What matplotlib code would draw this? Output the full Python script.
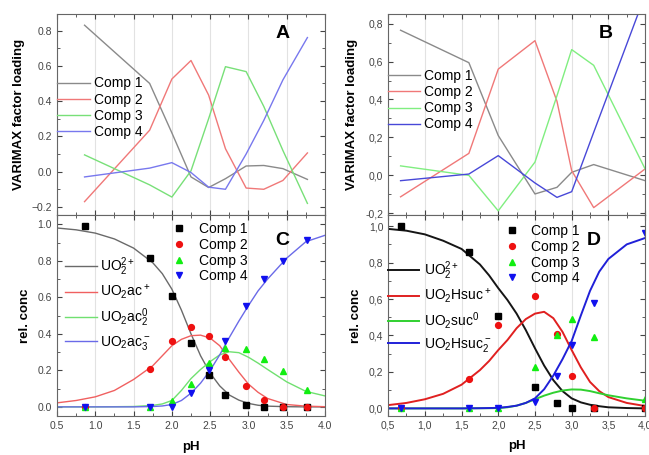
import numpy as np
import matplotlib
matplotlib.use('Agg')
from matplotlib import pyplot as plt
from matplotlib.ticker import MultipleLocator, FuncFormatter

plt.rcParams['font.family'] = ['Liberation Sans', 'DejaVu Sans']
plt.rcParams['mathtext.fontset'] = 'custom'
plt.rcParams['mathtext.rm'] = 'Liberation Sans'
plt.rcParams['mathtext.it'] = 'Liberation Sans:italic'
plt.rcParams['mathtext.default'] = 'regular'

comp_labels = ['Comp 1', 'Comp 2', 'Comp 3', 'Comp 4']

# panel A / C : acetate
ph_ac = [0.86, 1.71, 2.0, 2.25, 2.48, 2.7, 2.97, 3.2, 3.45, 3.77]
load_ac = [
    [0.83, 0.50, 0.22, -0.03, -0.09, -0.04, 0.032, 0.035, 0.017, -0.044],
    [-0.17, 0.235, 0.525, 0.63, 0.434, 0.13, -0.093, -0.10, -0.05, 0.106],
    [0.095, -0.075, -0.144, 0.005, 0.30, 0.595, 0.567, 0.37, 0.12, -0.18],
    [-0.03, 0.02, 0.051, -0.005, -0.088, -0.10, 0.10, 0.29, 0.52, 0.76],
]
conc_ac = [
    [0.99, 0.815, 0.605, 0.35, 0.175, 0.065, 0.01, 0.0, 0.0, 0.0],
    [0.0, 0.21, 0.36, 0.44, 0.39, 0.275, 0.115, 0.04, 0.0, 0.0],
    [0.0, 0.0, 0.03, 0.125, 0.24, 0.32, 0.315, 0.265, 0.195, 0.095],
    [0.0, 0.0, 0.0, 0.075, 0.20, 0.36, 0.55, 0.70, 0.80, 0.915],
]
species_ac = ['UO$_2^{2+}$', 'UO$_2$ac$^+$', 'UO$_2$ac$_2^0$', 'UO$_2$ac$_3^-$']
ph_fit_ac = [0.5, 0.75, 1.0, 1.25, 1.5, 1.75, 1.875, 2.0, 2.125, 2.25, 2.375, 2.5,
             2.625, 2.75, 2.875, 3.0, 3.125, 3.25, 3.5, 3.75, 4.0]
fit_ac = [
    [0.98, 0.97, 0.952, 0.92, 0.87, 0.79, 0.73, 0.645, 0.53, 0.40, 0.28, 0.185,
     0.115, 0.065, 0.037, 0.019, 0.009, 0.004, 0.001, 0.0, 0.0],
    [0.022, 0.035, 0.055, 0.09, 0.15, 0.225, 0.28, 0.335, 0.37, 0.39, 0.393, 0.377,
     0.335, 0.26, 0.19, 0.125, 0.08, 0.046, 0.013, 0.004, 0.001],
    [0.0, 0.0, 0.0, 0.001, 0.002, 0.008, 0.016, 0.035, 0.09, 0.155, 0.205, 0.248,
     0.285, 0.302, 0.297, 0.272, 0.24, 0.205, 0.137, 0.085, 0.06],
    [0.0, 0.0, 0.0, 0.0, 0.0, 0.002, 0.005, 0.013, 0.035, 0.075, 0.13, 0.20,
     0.285, 0.38, 0.47, 0.555, 0.635, 0.70, 0.815, 0.905, 0.94],
]

# panel B / D : succinate
ph_suc = [0.67, 1.6, 2.0, 2.5, 2.8, 3.0, 3.3, 4.0]
load_suc = [
    [0.765, 0.594, 0.21, -0.098, -0.063, 0.016, 0.057, -0.028],
    [-0.113, 0.116, 0.56, 0.71, 0.39, 0.025, -0.17, 0.034],
    [0.05, 0.0, -0.187, 0.07, 0.42, 0.663, 0.58, 0.034],
    [-0.028, 0.007, 0.104, -0.04, -0.116, -0.086, 0.227, 0.95],
]
conc_suc = [
    [1.0, 0.858, 0.508, 0.119, 0.027, 0.0, 0.0, 0.0],
    [0.0, 0.16, 0.46, 0.617, 0.41, 0.18, 0.0, 0.0],
    [0.0, 0.0, 0.0, 0.225, 0.40, 0.488, 0.39, 0.05],
    [0.0, 0.0, 0.0, 0.037, 0.177, 0.35, 0.58, 0.965],
]
species_suc = ['UO$_2^{2+}$', 'UO$_2$Hsuc$^+$', 'UO$_2$suc$^0$', 'UO$_2$Hsuc$_2^-$']
ph_fit_suc = [0.5, 0.75, 1.0, 1.25, 1.5, 1.75, 1.875, 2.0, 2.125, 2.25, 2.375, 2.5,
              2.625, 2.75, 2.875, 3.0, 3.125, 3.25, 3.375, 3.5, 3.75, 4.0]
fit_suc = [
    [0.985, 0.975, 0.955, 0.92, 0.875, 0.79, 0.73, 0.66, 0.595, 0.52, 0.43, 0.33,
     0.235, 0.155, 0.095, 0.055, 0.033, 0.02, 0.012, 0.006, 0.002, 0.0],
    [0.018, 0.03, 0.05, 0.08, 0.13, 0.21, 0.26, 0.32, 0.375, 0.44, 0.49, 0.52,
     0.53, 0.495, 0.42, 0.32, 0.225, 0.145, 0.095, 0.062, 0.03, 0.013],
    [0.0, 0.0, 0.0, 0.0, 0.0, 0.001, 0.001, 0.002, 0.006, 0.015, 0.03, 0.05,
     0.07, 0.086, 0.098, 0.104, 0.103, 0.095, 0.083, 0.072, 0.055, 0.042],
    [0.0, 0.0, 0.0, 0.0, 0.0, 0.001, 0.002, 0.003, 0.008, 0.015, 0.03, 0.055,
     0.105, 0.18, 0.27, 0.37, 0.51, 0.645, 0.75, 0.82, 0.90, 0.935],
]

col_A = ['#8a8a8a', '#f07878', '#78e078', '#7878ee']
col_B = ['#8a8a8a', '#f07878', '#80ee80', '#4848d8']
col_C = ['#6a6a6a', '#f06060', '#70e070', '#6a6ae8']
col_D = ['#151515', '#e02020', '#30d030', '#2020d8']
mk_col = ['black', '#ee1111', '#11ee11', '#1111ee']
mk_shape = ['s', 'o', '^', 'v']


def comma(v, pos):
    return ('%.1f' % v).replace('.', ',')


def style(ax, ylo, yhi, ymaj, ymin, show_x, use_comma):
    ax.set_xlim(0.5, 4.0)
    ax.set_ylim(ylo, yhi)
    ax.xaxis.set_major_locator(MultipleLocator(0.5))
    ax.xaxis.set_minor_locator(MultipleLocator(0.25))
    ax.yaxis.set_major_locator(MultipleLocator(ymaj))
    ax.yaxis.set_minor_locator(MultipleLocator(ymin))
    ax.tick_params(which='both', direction='in', top=True, right=True,
                   labelsize=7.5, colors='#444444')
    ax.tick_params(which='major', length=3.5)
    ax.tick_params(which='minor', length=2)
    ax.xaxis.grid(True, color='#e2e2e2', linewidth=0.8)
    ax.set_axisbelow(True)
    for s in ax.spines.values():
        s.set_color('#666666')
    if not show_x:
        ax.tick_params(labelbottom=False)
    else:
        ax.set_xlabel('pH', fontsize=9.5, fontweight='bold', labelpad=7)
    if use_comma:
        ax.yaxis.set_major_formatter(FuncFormatter(comma))
        ax.xaxis.set_major_formatter(FuncFormatter(comma))


fig = plt.figure(figsize=(6.49, 4.55), dpi=100)
axA = fig.add_axes([0.0878, 0.527, 0.4130, 0.442])
axC = fig.add_axes([0.0878, 0.0857, 0.4130, 0.4413])
axB = fig.add_axes([0.598, 0.527, 0.396, 0.442])
axD = fig.add_axes([0.598, 0.0864, 0.396, 0.4406])

# top panels
for i in range(4):
    axA.plot(ph_ac, load_ac[i], color=col_A[i], lw=1.0, label=comp_labels[i])
    axB.plot(ph_suc, load_suc[i], color=col_B[i], lw=1.0, label=comp_labels[i])

style(axA, -0.247, 0.893, 0.2, 0.1, False, False)
style(axB, -0.21, 0.85, 0.2, 0.1, False, True)
for ax in (axA, axB):
    ax.set_ylabel('VARIMAX factor loading', fontsize=9.5, fontweight='bold', labelpad=5)
axA.legend(loc='upper left', bbox_to_anchor=(0.0, 0.69), frameon=False,
           fontsize=10, handlelength=2.4, handletextpad=0.25, labelspacing=0.15,
           borderpad=0, borderaxespad=0)
axB.legend(loc='upper left', bbox_to_anchor=(0.0, 0.726), frameon=False,
           fontsize=10, handlelength=2.3, handletextpad=0.3, labelspacing=0.15,
           borderpad=0, borderaxespad=0)
axA.text(0.84, 0.905, 'A', transform=axA.transAxes, fontsize=14,
         fontweight='bold', ha='center', va='center')
axB.text(0.845, 0.905, 'B', transform=axB.transAxes, fontsize=14,
         fontweight='bold', ha='center', va='center')

# bottom panels
handles = {}
for ax, phf, fits, cols, lw, names, phd, conc in [
        (axC, ph_fit_ac, fit_ac, col_C, 1.0, species_ac, ph_ac, conc_ac),
        (axD, ph_fit_suc, fit_suc, col_D, 1.4, species_suc, ph_suc, conc_suc)]:
    lines = []
    for i in range(4):
        ln, = ax.plot(phf, fits[i], color=cols[i], lw=lw, label=names[i])
        lines.append(ln)
    pts = []
    for i in range(4):
        p, = ax.plot(phd, conc[i], linestyle='none', marker=mk_shape[i],
                     color=mk_col[i], markersize=4.2, label=comp_labels[i])
        pts.append(p)
    handles[ax] = (lines, pts)

style(axC, -0.05, 1.05, 0.2, 0.1, True, False)
style(axD, -0.04, 1.06, 0.2, 0.1, True, True)
for ax in (axC, axD):
    ax.set_ylabel('rel. conc', fontsize=9.5, fontweight='bold', labelpad=5)

legC = axC.legend(handles=handles[axC][0], loc='upper left', bbox_to_anchor=(0.03, 0.80),
                  frameon=False, fontsize=10, handlelength=2.3, handletextpad=0.25,
                  labelspacing=0.35, borderpad=0, borderaxespad=0)
axC.add_artist(legC)
axC.legend(handles=handles[axC][1], loc='upper left', bbox_to_anchor=(0.43, 0.965),
           frameon=False, fontsize=10, handlelength=1.0, handletextpad=0.9,
           labelspacing=0.12, borderpad=0, borderaxespad=0)
legD = axD.legend(handles=handles[axD][0], loc='upper left', bbox_to_anchor=(0.0, 0.78),
                  frameon=False, fontsize=10, handlelength=2.2, handletextpad=0.4,
                  labelspacing=0.35, borderpad=0, borderaxespad=0)
axD.add_artist(legD)
axD.legend(handles=handles[axD][1], loc='upper left', bbox_to_anchor=(0.455, 0.955),
           frameon=False, fontsize=10, handlelength=1.0, handletextpad=0.9,
           labelspacing=0.12, borderpad=0, borderaxespad=0)
axC.text(0.84, 0.876, 'C', transform=axC.transAxes, fontsize=14,
         fontweight='bold', ha='center', va='center')
axD.text(0.80, 0.876, 'D', transform=axD.transAxes, fontsize=14,
         fontweight='bold', ha='center', va='center')

fig.savefig('out.png', dpi=100)
